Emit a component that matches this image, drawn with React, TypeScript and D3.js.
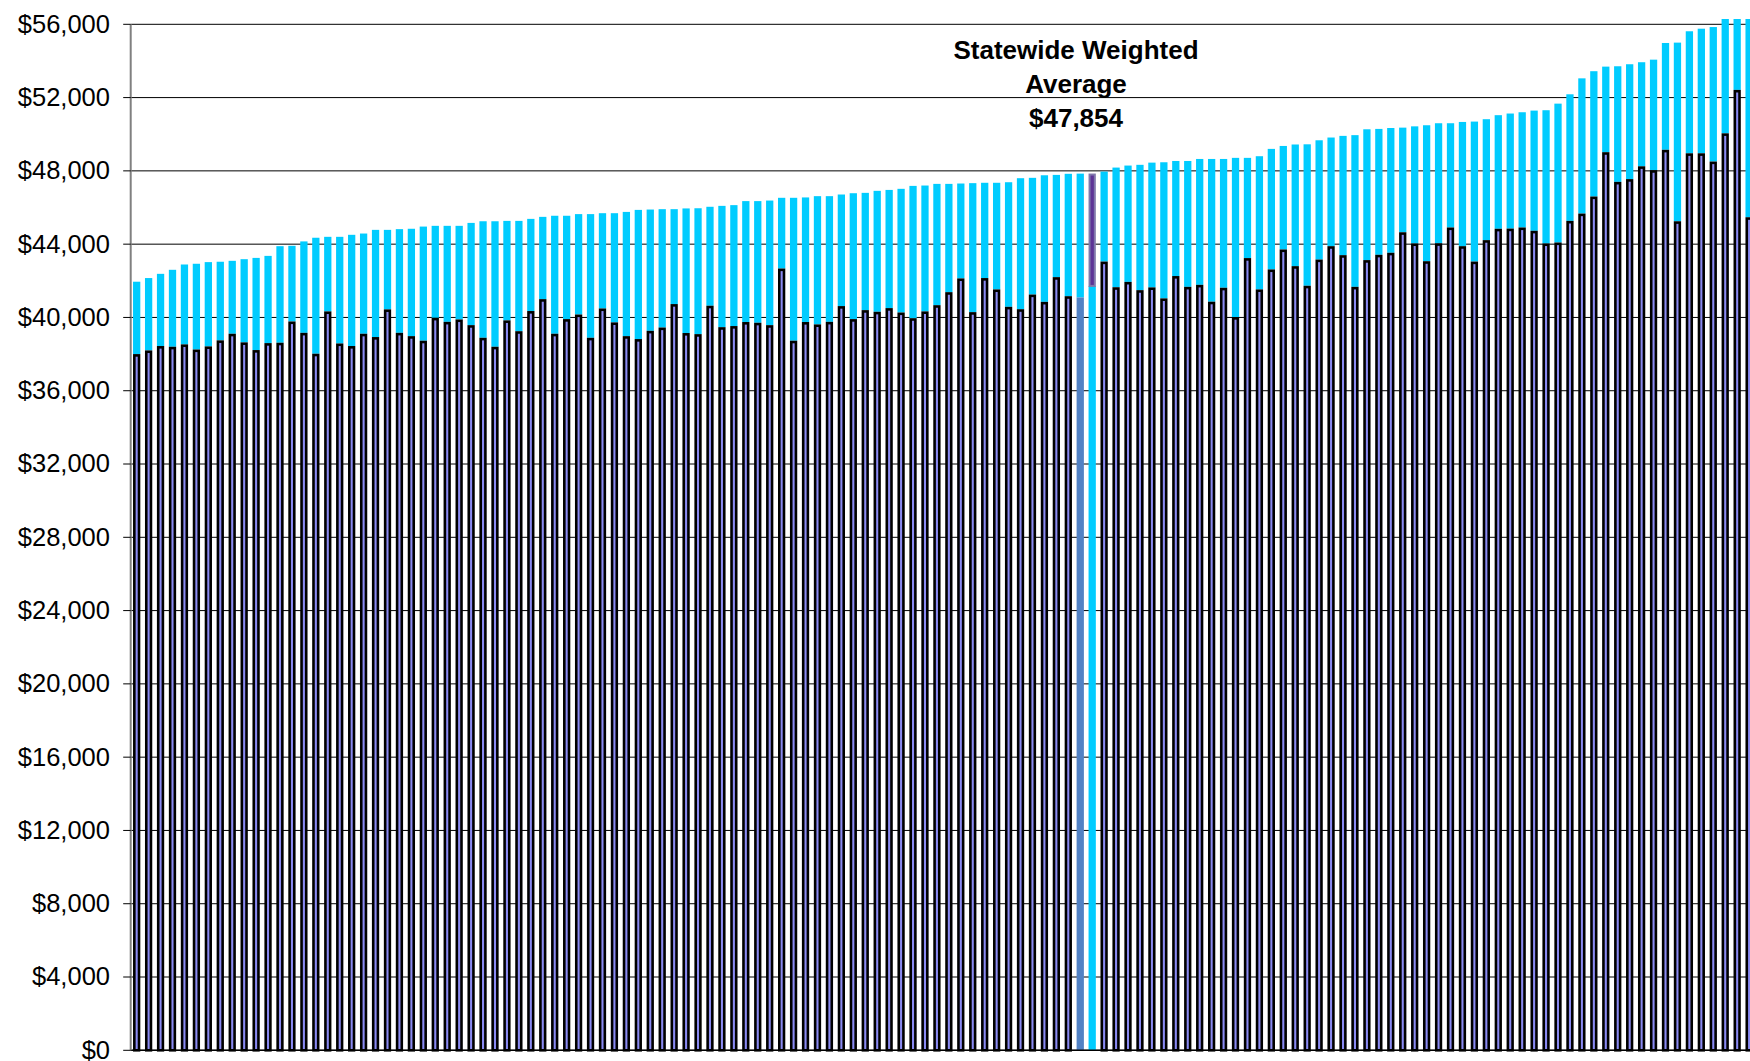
import React from "react";
import * as d3 from "d3";

// Base salary per district (lower, outlined segment), sorted by total
const baseValues: number[] = [
  38000, 38200, 38440, 38400, 38530, 38250, 38420, 38750, 39110, 38640,
  38220, 38600, 38620, 39780, 39160, 38020, 40330, 38580, 38440, 39110,
  38930, 40440, 39160, 38980, 38730, 39980, 39760, 39890, 39580, 38890,
  38400, 39840, 39250, 40350, 41000, 39110, 39910, 40160, 38890, 40490,
  39730, 38980, 38820, 39270, 39450, 40730, 39150, 39090, 40640, 39470,
  39530, 39750, 39710, 39580, 42670, 38730, 39750, 39620, 39760, 40620,
  39910, 40400, 40310, 40510, 40270, 39960, 40330, 40670, 41380, 42130,
  40290, 42150, 41530, 40580, 40450, 41250, 40850, 42200, 41160, 41090,
  41720, 43050, 41650, 41940, 41490, 41640, 41040, 42260, 41670, 41780,
  40860, 41620, 40020, 43240, 41530, 42620, 43710, 42800, 41730, 43160,
  43890, 43400, 41670, 43130, 43420, 43530, 44650, 44040, 43070, 44050,
  44910, 43890, 43050, 44220, 44840, 44850, 44910, 44730, 44040, 44090,
  45270, 45670, 46600, 49020, 47400, 47550, 48250, 48040, 49150, 45250,
  48960, 48960, 48510, 50050, 52420, 45470,
];

// Total compensation per district (top of the stacked bar)
const totalValues: number[] = [
  41950, 42150, 42380, 42600, 42890, 42930, 43020, 43040, 43090, 43180,
  43250, 43360, 43890, 43910, 44150, 44350, 44400, 44400, 44510, 44580,
  44780, 44780, 44820, 44840, 44960, 45000, 45000, 45000, 45160, 45250,
  45250, 45270, 45270, 45380, 45490, 45550, 45550, 45640, 45640, 45690,
  45690, 45760, 45870, 45890, 45910, 45910, 45950, 45960, 46040, 46090,
  46130, 46350, 46350, 46380, 46530, 46530, 46550, 46620, 46620, 46710,
  46780, 46800, 46910, 46960, 47020, 47180, 47200, 47290, 47290, 47310,
  47330, 47350, 47350, 47380, 47600, 47620, 47760, 47780, 47840, 47850,
  47854, 47960, 48180, 48290, 48330, 48450, 48470, 48540, 48540, 48650,
  48650, 48650, 48710, 48710, 48800, 49200, 49360, 49440, 49450, 49670,
  49820, 49910, 49950, 50270, 50290, 50340, 50360, 50430, 50490, 50600,
  50600, 50670, 50690, 50820, 51040, 51130, 51200, 51290, 51310, 51670,
  52180, 53050, 53440, 53690, 53710, 53820, 53930, 54070, 54980, 55000,
  55620, 55760, 55850, 56400, 56500, 56600,
];

const highlightedIndex = 79; // district drawn in steel blue
const averageIndex = 80; // statewide weighted average bar
const averageLabel: string[] = ["Statewide Weighted", "Average", "$47,854"];

const yTicks: number[] = d3.range(0, 56001, 4000);

const W = 1750;
const H = 1061;
const axisX = 130.7;
const step = 11.944;
const yBottom = 1050.3;
const yTop = 24.3;
const clipTop = 19;

export default function App() {
  const n = totalValues.length;
  const x = d3
    .scaleBand<number>()
    .domain(d3.range(n))
    .range([axisX, axisX + n * step])
    .paddingInner(0.39)
    .paddingOuter(0.195);
  const y = d3.scaleLinear().domain([0, 56000]).range([yBottom, yTop]);
  const fmt = d3.format("$,");
  const bw = x.bandwidth();
  const sw = 2.6;

  return (
    <svg
      width={W}
      height={H}
      style={{ position: "absolute", left: 0, top: 0, background: "#fff" }}
      fontFamily="'Liberation Sans', Arial, sans-serif"
    >
      <defs>
        <clipPath id="plot">
          <rect x={axisX} y={clipTop} width={W} height={yBottom - clipTop + 2} />
        </clipPath>
      </defs>

      {/* gridlines */}
      {yTicks.map((t) => (
        <line
          key={"g" + t}
          x1={axisX}
          x2={W}
          y1={y(t)}
          y2={y(t)}
          stroke="#000"
          strokeWidth={1}
        />
      ))}

      <g clipPath="url(#plot)">
        {totalValues.map((tot, i) => {
          const base = baseValues[i];
          const bx = x(i)!;
          if (i === averageIndex) {
            return (
              <g key={i}>
                <rect x={bx} y={y(base)} width={bw} height={y(0) - y(base)} fill="#00ccff" />
                <rect
                  x={bx + 1}
                  y={y(tot) + 1}
                  width={bw - 2}
                  height={y(base) - y(tot) - 1}
                  fill="#5c3396"
                  stroke="#8078ac"
                  strokeWidth={2}
                />
              </g>
            );
          }
          if (i === highlightedIndex) {
            return (
              <g key={i}>
                <rect x={bx} y={y(tot)} width={bw} height={y(base) - y(tot)} fill="#00ccff" />
                <rect x={bx} y={y(base)} width={bw} height={y(0) - y(base)} fill="#5282c4" />
              </g>
            );
          }
          return (
            <g key={i}>
              <rect x={bx} y={y(tot)} width={bw} height={y(base) - y(tot)} fill="#00ccff" />
              <rect
                x={bx + sw / 2}
                y={y(base) + sw / 2}
                width={bw - sw}
                height={y(0) - y(base) - sw / 2}
                fill="#8a8af2"
                stroke="#000"
                strokeWidth={sw}
              />
            </g>
          );
        })}
      </g>

      {/* category axis baseline */}
      <line x1={axisX} x2={W} y1={yBottom} y2={yBottom} stroke="#000" strokeWidth={1.5} />

      {/* value axis */}
      <line x1={axisX} x2={axisX} y1={yTop} y2={yBottom} stroke="#808080" strokeWidth={2} />
      {yTicks.map((t) => (
        <g key={"t" + t}>
          <line x1={axisX - 7.5} x2={axisX} y1={y(t)} y2={y(t)} stroke="#000" strokeWidth={1} />
          <text
            x={110}
            y={y(t)}
            dy="0.33em"
            textAnchor="end"
            fontSize={25.5}
            fill="#000"
          >
            {fmt(t)}
          </text>
        </g>
      ))}

      {/* average annotation */}
      {averageLabel.map((s, k) => (
        <text
          key={"a" + k}
          x={1076}
          y={59.3 + k * 34}
          textAnchor="middle"
          fontSize={26}
          fontWeight="bold"
          fill="#000"
        >
          {s}
        </text>
      ))}
    </svg>
  );
}
